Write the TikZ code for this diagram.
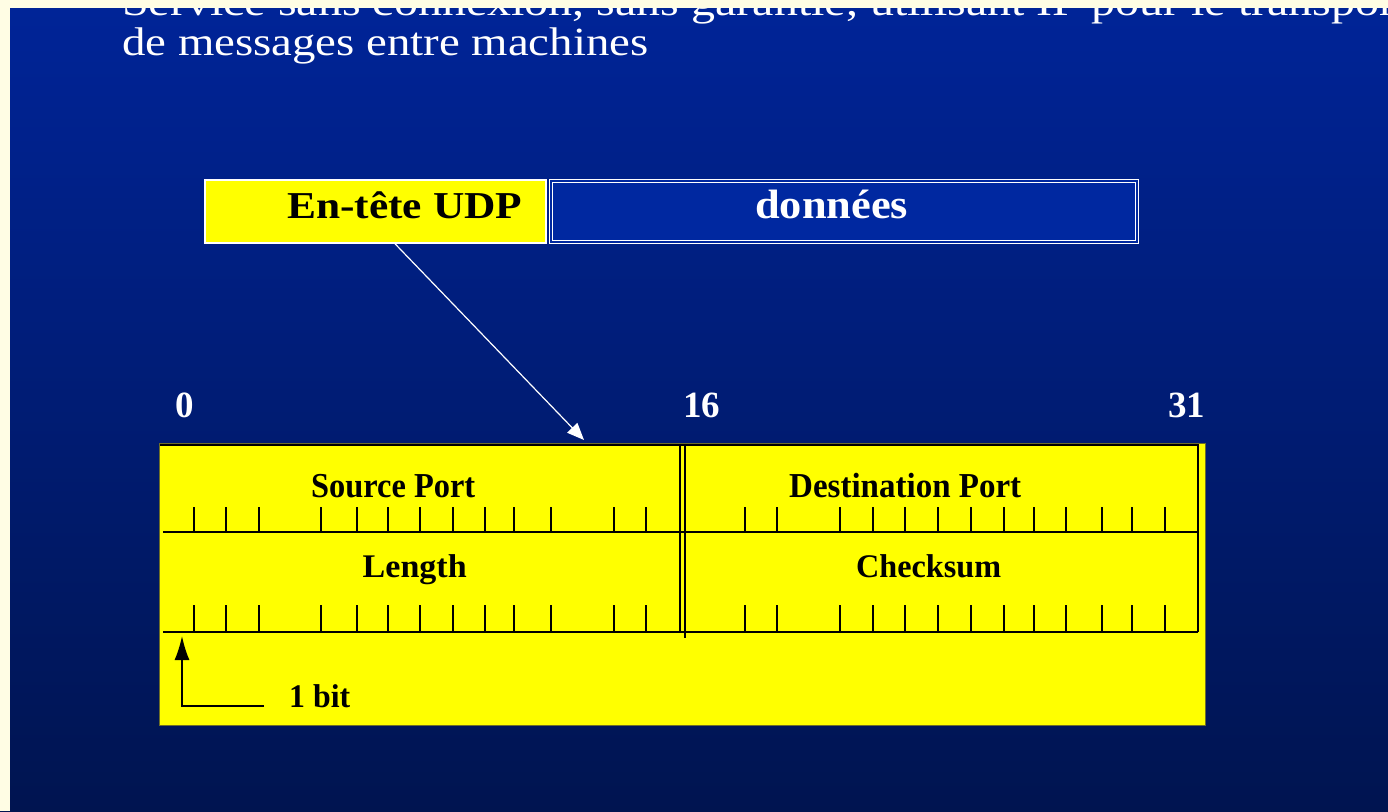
\documentclass[tikz,border=0pt]{standalone}
\usepackage{fontspec}
\setmainfont{Liberation Serif}
\usetikzlibrary{arrows.meta}
\newcommand\fw[2]{\resizebox{#1}{\height}{#2}}
\definecolor{bgtop}{RGB}{0,36,152}
\definecolor{bgbot}{RGB}{0,20,80}
\definecolor{cream}{RGB}{255,253,228}
\definecolor{boxblue}{RGB}{0,40,160}
\definecolor{yel}{RGB}{255,255,0}
\definecolor{edge}{RGB}{110,110,40}
\begin{document}
\begin{tikzpicture}[x=1pt,y=-1pt,
  ttl/.style={text=white, inner sep=0pt, anchor=base west, font=\fontsize{40}{40}\selectfont},
  lbl/.style={text=black, inner sep=0pt, anchor=base west, font=\bfseries\fontsize{35}{35}\selectfont},
  num/.style={text=white, inner sep=0pt, anchor=base west, font=\bfseries\fontsize{37}{37}\selectfont},
  hdrbox/.style={fill=yel, draw=white, line width=1.5pt, minimum width=341pt, minimum height=63pt, inner sep=0pt},
  databox/.style={fill=boxblue, draw=white, double=boxblue, double distance=1.6pt, line width=0.9pt, minimum width=586pt, minimum height=61pt, inner sep=0pt},
  bigbox/.style={fill=yel, draw=edge, line width=0.8pt, minimum width=1046pt, minimum height=282pt, inner sep=0pt},
  tickline/.style={line width=2pt, black},
  rule/.style={line width=2pt, black},
  vrule/.style={line width=1.5pt, black},
  warrow/.style={white, line width=1.2pt, -{Triangle[length=17pt, width=14pt]}},
  barrow/.style={black, line width=1.6pt, -{Latex[length=24pt, width=15pt]}}
]
\useasboundingbox (0,0) rectangle (1388,811);
\begin{scope}
\clip (0,0) rectangle (1388,811);
\shade[top color=bgtop, bottom color=bgbot] (0,0) rectangle (1388,811);
% title
\node[ttl] (t1) at (122,15) {\scalebox{1.2}[1]{Service sans connexion, sans garantie, utilisant IP pour le transport}};
\node[ttl] (t2) at (122,55) {\scalebox{1.17}[1]{de messages entre machines}};
\end{scope}

% datagram boxes
\node[hdrbox] (hdr) at (375.5,211.5) {};
\node[databox] (data) at (844,211.5) {};
\node[lbl, font=\bfseries\fontsize{38}{38}\selectfont] (hdrtxt) at (287,218) {\fw{235pt}{En-tête UDP}};
\node[lbl, text=white, font=\bfseries\fontsize{41}{41}\selectfont] (datatxt) at (755,218) {\fw{153pt}{données}};

% bit numbers
\node[num] (n0) at (175,417) {0};
\node[num] (n16) at (683,417) {16};
\node[num] (n31) at (1168,417) {31};

% header frame
\node[bigbox] (frame) at (682,584) {};
\draw[rule] (160,444.5) -- (1198,444.5);
\draw[vrule] (1198,444) -- (1198,632);
\draw[vrule] (680,444) -- (680,632);
\draw[vrule] (685,444) -- (685,638);
\draw[rule] (163,532) -- (1198,532);
\draw[rule] (163,632) -- (1198,632);
\foreach \x in {193.6,226,259,321,357,387.5,419.6,452.5,485,514,550.7,613.6,646.4,744.6,777,839.6,872.9,905,938,970.7,1003.6,1033.6,1066,1102,1132,1164.6} {
  \draw[tickline] (\x,507) -- (\x,532);
  \draw[tickline] (\x,605) -- (\x,632);
}

% field labels
\node[lbl] (src) at (311,497) {\fw{164pt}{Source Port}};
\node[lbl] (dst) at (789,497) {\fw{232pt}{Destination Port}};
\node[lbl, font=\bfseries\fontsize{33}{33}\selectfont] (len) at (362.5,577) {\fw{104pt}{Length}};
\node[lbl, font=\bfseries\fontsize{33}{33}\selectfont] (chk) at (856,577) {\fw{145pt}{Checksum}};
\node[lbl, font=\bfseries\fontsize{33}{33}\selectfont] (bit) at (289,707) {\fw{61pt}{1 bit}};

% arrows
\coordinate (tgt) at (584,440);
\draw[warrow] ([xshift=19.5pt]hdr.south) -- (tgt);
\coordinate (bitfoot) at (264,706);
\coordinate (bittip) at (182,636);
\draw[barrow] (bitfoot) -- (bittip |- bitfoot) -- (bittip);

% page margins (light strips)
\fill[cream] (0,0) rectangle (1388,8);
\fill[cream] (0,0) rectangle (10,811);
\end{tikzpicture}
\end{document}
